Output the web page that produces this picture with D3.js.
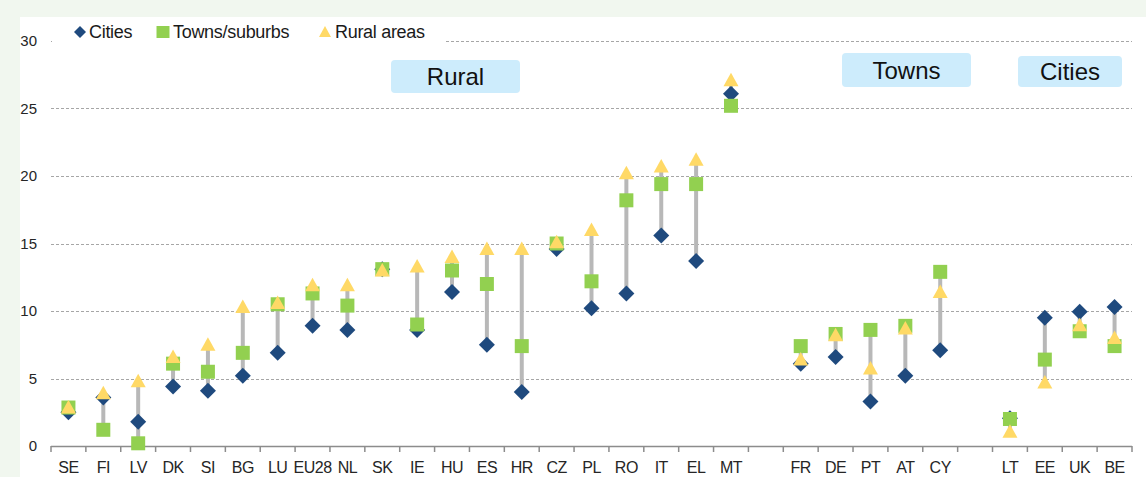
<!DOCTYPE html>
<html>
<head>
<meta charset="utf-8">
<script src="https://cdn.jsdelivr.net/npm/d3@7"></script>
<style>
  html, body { margin: 0; padding: 0; background: #f1f7ef; }
  svg { display: block; font-family: "Liberation Sans", Arial, sans-serif; }
</style>
</head>
<body>
<svg id="chart" width="1146" height="477"></svg>
<script>
// slots along the x axis, "" marks an empty gap between the groups
var countries = ["SE","FI","LV","DK","SI","BG","LU","EU28","NL","SK","IE","HU","ES","HR","CZ","PL","RO","IT","EL","MT",
                 "",
                 "FR","DE","PT","AT","CY",
                 "",
                 "LT","EE","UK","BE"];

var cities = [2.5,3.6,1.8,4.4,4.1,5.2,6.9,8.9,8.6,13.1,8.6,11.4,7.5,4.0,14.6,10.2,11.3,15.6,13.7,26.1,
              null,
              6.1,6.6,3.3,5.2,7.1,
              null,
              2.05,9.5,9.95,10.3];

var towns = [2.85,1.2,0.2,6.1,5.5,6.9,10.5,11.3,10.4,13.1,9.0,13.0,12.0,7.4,15.0,12.2,18.2,19.4,19.4,25.2,
             null,
             7.4,8.3,8.6,8.9,12.9,
             null,
             2.0,6.4,8.5,7.4];

var rural = [2.85,3.9,4.8,6.6,7.5,10.3,10.6,11.9,11.9,13.0,13.3,14.0,14.6,14.6,15.1,16.0,20.2,20.7,21.2,27.1,
             null,
             6.4,8.2,5.75,8.7,11.4,
             null,
             1.05,4.7,8.95,8.0];

var yTicks = [0,5,10,15,20,25,30];

var groupLabels = [
  {text: "Rural",  x0: 391,  x1: 520,  y0: 60, y1: 93},
  {text: "Towns",  x0: 842,  x1: 971,  y0: 53, y1: 87},
  {text: "Cities", x0: 1018, x1: 1122, y0: 56, y1: 87}
];

var colors = {cities: "#1f4a7e", towns: "#92d050", rural: "#ffd966", hilo: "#b8b8b8"};

var svg = d3.select("#chart");

// white plot panel inside the mint frame
svg.append("rect")
  .attr("x", 20).attr("y", 17)
  .attr("width", 1126).attr("height", 460)
  .attr("fill", "#ffffff");

var plotLeft = 51, plotRight = 1132, plotTop = 41, plotBottom = 446;

var x = d3.scaleBand()
  .domain(d3.range(countries.length))
  .range([plotLeft, plotRight]);

var y = d3.scaleLinear()
  .domain([0, 30])
  .range([plotBottom, plotTop]);

// grid
svg.append("g")
  .selectAll("line")
  .data(yTicks.filter(function(d) { return d > 0; }))
  .enter().append("line")
  .attr("x1", plotLeft).attr("x2", plotRight)
  .attr("y1", function(d) { return Math.round(y(d)) + 0.5; })
  .attr("y2", function(d) { return Math.round(y(d)) + 0.5; })
  .attr("stroke", "#a6a6a6")
  .attr("stroke-width", 1)
  .attr("stroke-dasharray", "3,2");

// y axis labels
svg.append("g")
  .selectAll("text")
  .data(yTicks)
  .enter().append("text")
  .attr("x", 37)
  .attr("y", function(d) { return y(d) + 5; })
  .attr("text-anchor", "end")
  .style("font-size", "15px")
  .attr("fill", "#262626")
  .text(function(d) { return d; });

// x axis line and ticks
var xAxis = svg.append("g");
xAxis.append("line")
  .attr("x1", plotLeft).attr("x2", plotRight)
  .attr("y1", plotBottom + 0.5).attr("y2", plotBottom + 0.5)
  .attr("stroke", "#8c8c8c").attr("stroke-width", 1.5);

xAxis.selectAll("line.tick")
  .data(d3.range(countries.length + 1))
  .enter().append("line")
  .attr("class", "tick")
  .attr("x1", function(i) { return plotLeft + i * x.bandwidth(); })
  .attr("x2", function(i) { return plotLeft + i * x.bandwidth(); })
  .attr("y1", plotBottom).attr("y2", plotBottom + 6)
  .attr("stroke", "#8c8c8c").attr("stroke-width", 1.5);

xAxis.selectAll("text")
  .data(countries)
  .enter().append("text")
  .attr("x", function(d, i) { return x(i) + x.bandwidth() / 2; })
  .attr("y", 473)
  .attr("text-anchor", "middle")
  .style("font-size", "16px")
  .style("letter-spacing", "-0.5px")
  .attr("fill", "#262626")
  .text(function(d) { return d; });

// high-low lines
var plot = svg.append("g");
var cx = function(i) { return x(i) + x.bandwidth() / 2; };

countries.forEach(function(c, i) {
  if (!c) return;
  var vals = [cities[i], towns[i], rural[i]];
  plot.append("line")
    .attr("x1", cx(i)).attr("x2", cx(i))
    .attr("y1", y(d3.min(vals))).attr("y2", y(d3.max(vals)))
    .attr("stroke", colors.hilo)
    .attr("stroke-width", 4);
});

var diamond = "M0,-8L8,0L0,8L-8,0Z";
var square = "M-7,-7H7V7H-7Z";
var triangle = "M0,-7.5L7.5,6L-7.5,6Z";

function drawSeries(values, path, fill) {
  plot.append("g")
    .selectAll("path")
    .data(values.map(function(v, i) { return {v: v, i: i}; })
                .filter(function(d) { return d.v !== null; }))
    .enter().append("path")
    .attr("d", path)
    .attr("transform", function(d) { return "translate(" + cx(d.i) + "," + y(d.v) + ")"; })
    .attr("fill", fill);
}

drawSeries(cities, diamond, colors.cities);
drawSeries(towns, square, colors.towns);
drawSeries(rural, triangle, colors.rural);

// legend, its white box hides the top gridline
var legend = svg.append("g");
legend.append("rect")
  .attr("x", 52).attr("y", 20)
  .attr("width", 394).attr("height", 26)
  .attr("fill", "#ffffff");

var legendItems = [
  {label: "Cities", path: "M0,-6L6,0L0,6L-6,0Z", fill: colors.cities, mx: 80, tx: 89},
  {label: "Towns/suburbs", path: "M-6.5,-6H6.5V6H-6.5Z", fill: colors.towns, mx: 163, tx: 173},
  {label: "Rural areas", path: "M0,-6L6,5L-6,5Z", fill: colors.rural, mx: 325, tx: 335}
];

legendItems.forEach(function(d) {
  legend.append("path")
    .attr("d", d.path)
    .attr("transform", "translate(" + d.mx + ",32)")
    .attr("fill", d.fill);
  legend.append("text")
    .attr("x", d.tx).attr("y", 38)
    .style("font-size", "18px")
    .style("letter-spacing", "-0.3px")
    .attr("fill", "#1a1a1a")
    .text(d.label);
});

// group tags
var tags = svg.append("g").selectAll("g")
  .data(groupLabels)
  .enter().append("g");

tags.append("rect")
  .attr("x", function(d) { return d.x0; })
  .attr("y", function(d) { return d.y0; })
  .attr("width", function(d) { return d.x1 - d.x0; })
  .attr("height", function(d) { return d.y1 - d.y0; })
  .attr("rx", 4)
  .attr("fill", "#cdecfc");

tags.append("text")
  .attr("x", function(d) { return (d.x0 + d.x1) / 2; })
  .attr("y", function(d) { return (d.y0 + d.y1) / 2 + 8.5; })
  .attr("text-anchor", "middle")
  .style("font-size", "24px")
  .attr("fill", "#111")
  .text(function(d) { return d.text; });
</script>
</body>
</html>
